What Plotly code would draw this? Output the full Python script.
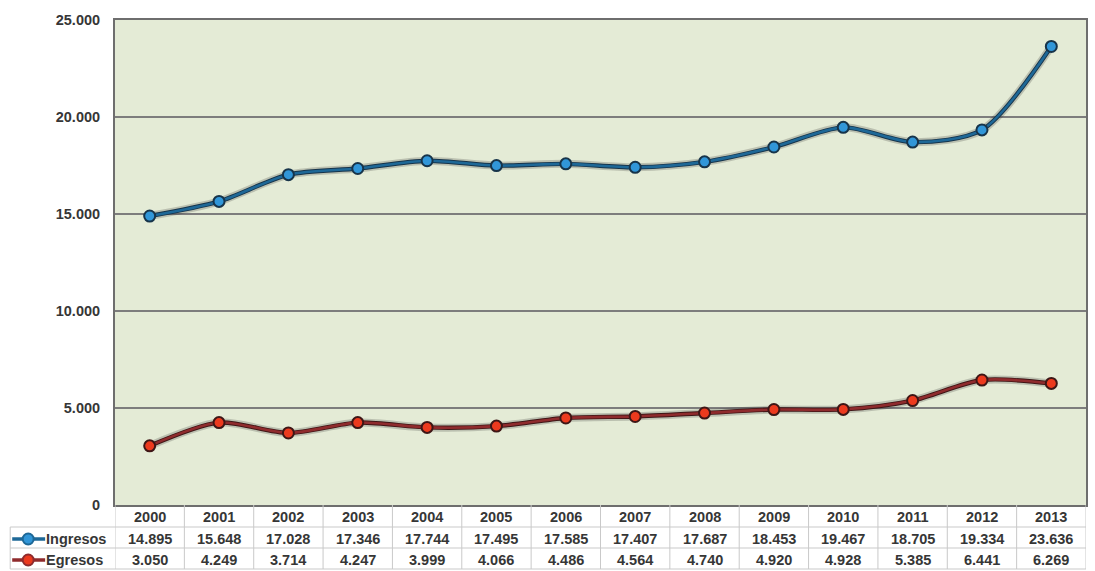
import plotly.graph_objects as go

years = ["2000", "2001", "2002", "2003", "2004", "2005", "2006",
         "2007", "2008", "2009", "2010", "2011", "2012", "2013"]
ingresos = [14895, 15648, 17028, 17346, 17744, 17495, 17585,
            17407, 17687, 18453, 19467, 18705, 19334, 23636]
egresos = [3050, 4249, 3714, 4247, 3999, 4066, 4486,
           4564, 4740, 4920, 4928, 5385, 6441, 6269]
y_ticks = [0, 5000, 10000, 15000, 20000, 25000]

series = [
    ("Ingresos", ingresos, "#1e6897", "#17344a", "#3196d8"),
    ("Egresos", egresos, "#8f2b2d", "#3e1616", "#ec3a1e"),
]

W, H = 1095, 571
L, R, T, B = 115, 7, 20, 66
plot_h = H - T - B
plot_w = W - L - R

def py(px_y):
    """pixel row -> paper y"""
    return (H - B - px_y) / plot_h

def px(px_x):
    """pixel column -> paper x"""
    return (px_x - L) / plot_w

FONT = "Liberation Sans, Arial, sans-serif"
TXT = "#363636"
RULE = "#c9c9c9"

fig = go.Figure()
xs = list(range(len(years)))

for name, vals, line_c, edge_c, mark_c in series:
    # soft shadow and dark edge under the coloured line
    fig.add_trace(go.Scatter(
        x=xs, y=vals, mode="lines",
        line=dict(color="rgba(40,40,40,0.22)", width=8, shape="spline", smoothing=0.8),
        hoverinfo="skip", showlegend=False))
    fig.add_trace(go.Scatter(
        x=xs, y=vals, mode="lines",
        line=dict(color=edge_c, width=4.4, shape="spline", smoothing=0.8),
        hoverinfo="skip", showlegend=False))
    fig.add_trace(go.Scatter(
        x=xs, y=vals, mode="lines+markers", name=name,
        line=dict(color=line_c, width=2.6, shape="spline", smoothing=0.8),
        marker=dict(size=11, color=mark_c, line=dict(color=edge_c, width=2)),
        showlegend=False))

shapes = []
annotations = []

row_lines = [H - B, 527, 548, 569]
row_text = [517, 539, 560]

# horizontal table rules
for k, yy in enumerate(row_lines[1:]):
    shapes.append(dict(type="line", xref="paper", yref="paper", x0=px(10), x1=1,
                       y0=py(yy), y1=py(yy), line=dict(color=RULE, width=1)))
# vertical table rules at category boundaries
for i in range(len(years) + 1):
    shapes.append(dict(type="line", xref="x", yref="paper", x0=i - 0.5, x1=i - 0.5,
                       y0=py(row_lines[0]), y1=py(row_lines[3]),
                       line=dict(color=RULE, width=1)))
shapes.append(dict(type="line", xref="paper", yref="paper", x0=px(10), x1=px(10),
                   y0=py(row_lines[1]), y1=py(row_lines[3]),
                   line=dict(color=RULE, width=1)))

# year header
for i, yr in enumerate(years):
    annotations.append(dict(x=i, y=py(row_text[0]), xref="x", yref="paper",
                            yanchor="middle", xanchor="center",
                            text=f"<b>{yr}</b>", showarrow=False,
                            font=dict(family=FONT, size=14.5, color=TXT)))

def fmt(v):
    return f"{v:,}".replace(",", ".")

for r, (name, vals, line_c, edge_c, mark_c) in enumerate(series):
    yc = py(row_text[r + 1])
    for i, v in enumerate(vals):
        annotations.append(dict(x=i, y=yc, xref="x", yref="paper",
                                yanchor="middle", xanchor="center",
                                text=f"<b>{fmt(v)}</b>", showarrow=False,
                                font=dict(family=FONT, size=14.5, color=TXT)))
    # legend key
    shapes.append(dict(type="line", xref="paper", yref="paper", x0=px(12), x1=px(45),
                       y0=yc, y1=yc, line=dict(color=line_c, width=3.5)))
    shapes.append(dict(type="circle", xref="paper", yref="paper",
                       xsizemode="pixel", ysizemode="pixel",
                       xanchor=px(28), yanchor=yc, x0=-5.5, x1=5.5, y0=-5.5, y1=5.5,
                       fillcolor=mark_c, line=dict(color=line_c, width=2)))
    annotations.append(dict(x=px(44), y=yc, xref="paper", yref="paper",
                            xanchor="left", yanchor="middle",
                            text=f"<b>{name}</b>", showarrow=False,
                            font=dict(family=FONT, size=14.5, color=TXT)))

fig.update_layout(
    width=W, height=H,
    margin=dict(l=L, r=R, t=T, b=B),
    paper_bgcolor="white",
    plot_bgcolor="#e4ebd6",
    separators=",.",
    shapes=shapes,
    annotations=annotations,
    xaxis=dict(range=[-0.5, len(years) - 0.5],
               showticklabels=False, showgrid=False, zeroline=False,
               showline=True, linecolor="#6e6e6e", linewidth=2, mirror=True),
    yaxis=dict(range=[0, 25000], tickvals=y_ticks, tickformat=",d",
               showgrid=True, gridcolor="#7d7d7d", gridwidth=1.5, zeroline=False,
               showline=True, linecolor="#6e6e6e", linewidth=2, mirror=True,
               ticks="", ticklabelstandoff=10,
               tickfont=dict(family=FONT, size=14.5, color=TXT, weight="bold")),
)

fig.write_html("out.html")
